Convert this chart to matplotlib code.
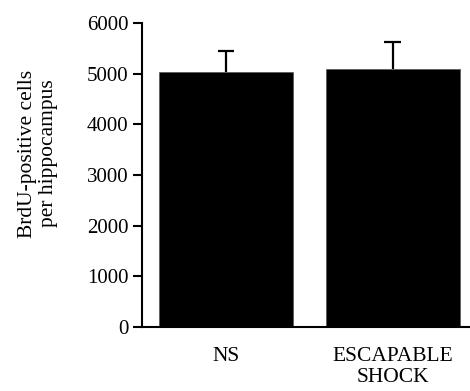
import numpy as np
import matplotlib.pyplot as plt

# Data
groups = ["NS", "ESCAPABLE\nSHOCK"]
means = [5040, 5100]
sem = [400, 520]

plt.rcParams['font.family'] = ['Liberation Serif', 'DejaVu Serif']

fig = plt.figure(figsize=(4.7, 3.91), dpi=100)
ax = fig.add_axes([0.302, 0.1637, 0.698, 0.7773])

x = np.arange(len(groups))
means = np.array(means)
tops = means + np.array(sem)
ax.bar(x, means, width=0.805, color='black', edgecolor='#555555', linewidth=0.5, zorder=2)
# upper error bars only
ax.vlines(x, means, tops, color='black', linewidth=1.6, zorder=3)
ax.hlines(tops, x - 0.05, x + 0.05, color='black', linewidth=1.6, zorder=3)

ax.set_xlim(-0.5045, 1.465)
ax.set_ylim(0, 6000)
ax.set_yticks(np.arange(0, 6001, 1000))
ax.set_xticks(x)
ax.set_xticklabels(groups, fontsize=15.5, linespacing=1.12)
ax.tick_params(axis='x', length=0, pad=14.5)
ax.tick_params(axis='y', direction='out', length=6.5, width=1.5, labelsize=15, pad=3)

for side in ['top', 'right']:
    ax.spines[side].set_visible(False)
ax.spines['left'].set_linewidth(1.5)
ax.spines['bottom'].set_linewidth(1.5)

fig.text(38 / 470, 1 - 153.5 / 391, "BrdU-positive cells\nper hippocampus",
         rotation=90, ha='center', va='center', fontsize=15.5, linespacing=1.2)

fig.savefig("out.png", dpi=100)
